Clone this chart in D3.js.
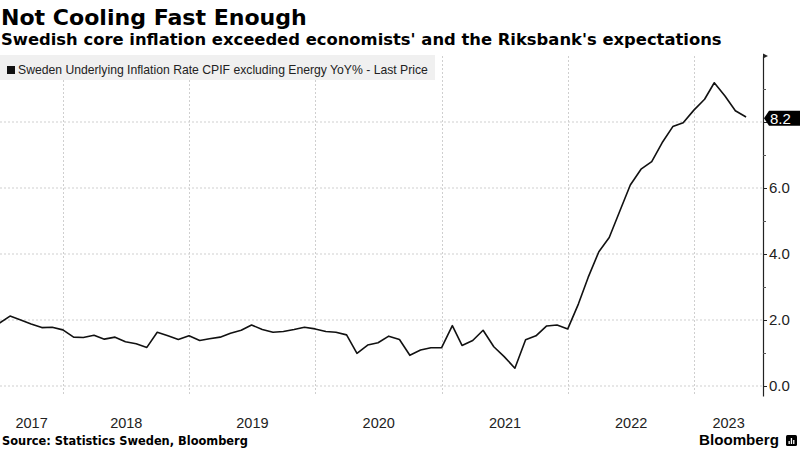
<!DOCTYPE html>
<html><head><meta charset="utf-8">
<script src="https://cdn.jsdelivr.net/npm/d3@7"></script>
<style>body{margin:0;background:#fff}svg{display:block}</style>
</head><body><svg id="c" width="800" height="450"></svg>
<script>
// ---- data ----
const months = [
 "2017-06","2017-07","2017-08","2017-09","2017-10","2017-11","2017-12",
 "2018-01","2018-02","2018-03","2018-04","2018-05","2018-06","2018-07","2018-08","2018-09","2018-10","2018-11","2018-12",
 "2019-01","2019-02","2019-03","2019-04","2019-05","2019-06","2019-07","2019-08","2019-09","2019-10","2019-11","2019-12",
 "2020-01","2020-02","2020-03","2020-04","2020-05","2020-06","2020-07","2020-08","2020-09","2020-10","2020-11","2020-12",
 "2021-01","2021-02","2021-03","2021-04","2021-05","2021-06","2021-07","2021-08","2021-09","2021-10","2021-11","2021-12",
 "2022-01","2022-02","2022-03","2022-04","2022-05","2022-06","2022-07","2022-08","2022-09","2022-10","2022-11","2022-12",
 "2023-01","2023-02","2023-03","2023-04","2023-05"
];
const values = [
 1.90,2.12,2.00,1.88,1.77,1.78,1.70,
 1.48,1.47,1.54,1.42,1.48,1.34,1.28,1.17,1.63,1.52,1.41,1.52,
 1.38,1.43,1.48,1.60,1.69,1.85,1.71,1.63,1.65,1.71,1.78,1.73,
 1.65,1.63,1.55,0.99,1.24,1.31,1.51,1.41,0.93,1.09,1.16,1.16,
 1.83,1.23,1.38,1.69,1.19,0.89,0.54,1.40,1.52,1.82,1.85,1.73,
 2.49,3.29,4.07,4.50,5.31,6.09,6.57,6.80,7.37,7.86,7.98,8.36,
 8.69,9.19,8.79,8.34,8.15
];
const yMajorTicks = [0,2,4,6,8];
const yMinorTicks = [1,3,5,7,9];
const yTopTick = 10;
const yearLabels = ["2017","2018","2019","2020","2021","2022","2023"];
const lastLabel = "8.2";
const title = "Not Cooling Fast Enough";
const subtitle = "Swedish core inflation exceeded economists' and the Riksbank's expectations";
const legendText = "Sweden Underlying Inflation Rate CPIF excluding Energy YoY% - Last Price";
const sourceText = "Source: Statistics Sweden, Bloomberg";

// ---- layout ----
const svg = d3.select("#c");
const plotL = 0, plotR = 763, plotT = 56, plotB = 396;

const parseM = d3.timeParse("%Y-%m");
const pts = months.map((m,i)=>({date: d3.timeDay.offset(d3.timeMonth.offset(parseM(m),1),-1), v: values[i]}));

const x = d3.scaleTime().domain([new Date(2017,6,2), new Date(2023,6,19)]).range([plotL, plotR]);
const y = d3.scaleLinear().domain([-0.303, 10]).range([plotB, plotT]);

function fit(sel, w){
  const fs = +sel.attr("font-size");
  const cw = sel.node().getComputedTextLength();
  sel.attr("font-size", fs*w/cw);
  return sel;
}

// title
fit(svg.append("text").attr("x",1).attr("y",25).attr("font-family","DejaVu Sans").attr("font-weight","bold")
  .attr("font-size",22).attr("fill","#000").text(title), 306);
fit(svg.append("text").attr("x",1).attr("y",45).attr("font-family","DejaVu Sans").attr("font-weight","bold")
  .attr("font-size",16).attr("fill","#000").text(subtitle), 721);

// gridlines
const g = svg.append("g");
g.selectAll(".hg").data(yMajorTicks).join("line")
  .attr("x1",plotL).attr("x2",plotR).attr("y1",d=>y(d)).attr("y2",d=>y(d))
  .attr("stroke","#cfcfcf").attr("stroke-width",1).attr("stroke-dasharray","2,2");
const yearStarts = yearLabels.slice(1).map(s=>new Date(+s,0,1));
g.selectAll(".vg").data(yearStarts).join("line")
  .attr("x1",d=>Math.round(x(d))+0.5).attr("x2",d=>Math.round(x(d))+0.5).attr("y1",plotT).attr("y2",plotB)
  .attr("stroke","#cfcfcf").attr("stroke-width",1).attr("stroke-dasharray","2,2");

// legend
svg.append("rect").attr("x",0).attr("y",55).attr("width",435).attr("height",25).attr("fill","#f0f0f0");
svg.append("rect").attr("x",7).attr("y",66).attr("width",8).attr("height",8).attr("fill","#111");
fit(svg.append("text").attr("x",18).attr("y",73.5).attr("font-family","Liberation Sans")
  .attr("font-size",12).attr("fill","#222").text(legendText), 410);

// line
svg.append("path").datum(pts)
  .attr("d", d3.line().x(d=>x(d.date)).y(d=>y(d.v)))
  .attr("fill","none").attr("stroke","#111").attr("stroke-width",1.6).attr("stroke-linejoin","round");

// y axis
const ax = svg.append("g").attr("transform",`translate(${plotR},0)`)
  .call(d3.axisRight(y).tickValues(yMajorTicks).tickSize(4).tickSizeOuter(0).tickPadding(2).tickFormat(d3.format(".1f")));
ax.select(".domain").attr("stroke","#222").attr("stroke-width",1.2);
ax.selectAll(".tick line").attr("stroke","#222");
ax.selectAll(".tick text").attr("font-family","Liberation Sans").attr("font-size",15).attr("fill","#222");
const axm = svg.append("g").attr("transform",`translate(${plotR},0)`)
  .call(d3.axisRight(y).tickValues(yMinorTicks).tickSize(3).tickSizeOuter(0).tickFormat(""));
axm.select(".domain").remove();
axm.selectAll(".tick line").attr("stroke","#555");
// top tick flag
svg.append("path").attr("d",`M${plotR},${y(yTopTick)-2.5} L${plotR+5},${y(yTopTick)} L${plotR},${y(yTopTick)+2.5} Z`).attr("fill","#222");

// last value tag (covers the 8.0 tick label, as in the reference)
const ly = y(values[values.length-1]) + 1.2;
ax.selectAll(".tick text").filter(d => Math.abs(y(d) - ly) < 12).remove();
svg.append("path").attr("d",`M${plotR+1},${ly} L${plotR+6},${ly-7.5} H800 V${ly+7.5} H${plotR+6} Z`).attr("fill","#000");
svg.append("text").attr("x",plotR+7).attr("y",ly+5.5).attr("font-family","Liberation Sans").attr("font-size",15)
  .attr("fill","#fff").text(lastLabel);

// year labels
svg.selectAll(".yl").data(yearLabels).join("text")
  .attr("x", s=>{ const a = Math.max(plotL, x(new Date(+s,0,1))); const b = Math.min(plotR, x(new Date(+s+1,0,1))); return (a+b)/2; })
  .attr("y",428).attr("text-anchor","middle").attr("font-family","Liberation Sans").attr("font-size",14.5)
  .attr("fill","#222").text(s=>s);

// source
fit(svg.append("text").attr("x",2).attr("y",445).attr("font-family","DejaVu Sans").attr("font-weight","bold")
  .attr("font-size",11).attr("fill","#000").text(sourceText), 246);

// Bloomberg logo
fit(svg.append("text").attr("x",699).attr("y",445).attr("font-family","Liberation Sans").attr("font-weight","bold")
  .attr("font-size",15).attr("fill","#000").text("Bloomberg"), 80);
svg.append("rect").attr("x",786).attr("y",435).attr("width",11).attr("height",11).attr("rx",1.5).attr("fill","#000");
[[788.5,441,1.3,3],[790.8,438,1.3,6],[793.1,440,1.3,4]].forEach(b=>
  svg.append("rect").attr("x",b[0]).attr("y",b[1]).attr("width",b[2]).attr("height",b[3]).attr("fill","#fff"));
</script></body></html>
